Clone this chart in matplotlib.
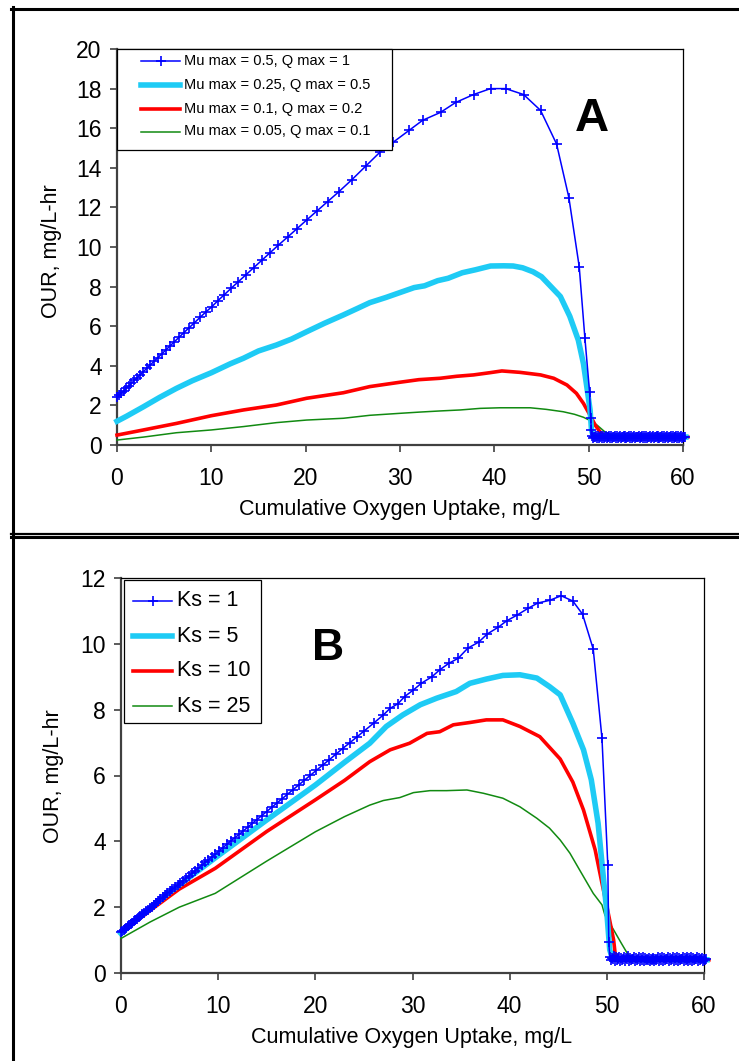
import matplotlib
matplotlib.use("Agg")
import matplotlib.pyplot as plt
from matplotlib.lines import Line2D
from matplotlib.patches import Rectangle

plt.rcParams['font.family'] = ['Liberation Sans', 'DejaVu Sans']

# ---------------- data ----------------
x_label = "Cumulative Oxygen Uptake, mg/L"
y_label = "OUR, mg/L-hr"
x_ticks = [0, 10, 20, 30, 40, 50, 60]
yticks_a = [0, 2, 4, 6, 8, 10, 12, 14, 16, 18, 20]
yticks_b = [0, 2, 4, 6, 8, 10, 12]

labels_a = ["Mu max = 0.5, Q max = 1", "Mu max = 0.25, Q max = 0.5",
            "Mu max = 0.1, Q max = 0.2", "Mu max = 0.05, Q max = 0.1"]
labels_b = ["Ks = 1", "Ks = 5", "Ks = 10", "Ks = 25"]

tail_x = [50.3, 50.4, 50.5, 50.6, 50.7, 50.8, 50.9, 51.0, 51.1, 51.2,
          51.3, 51.4, 51.5, 51.6, 51.7, 51.8, 51.9, 52.0, 52.1, 52.2,
          52.3, 52.4, 52.5, 52.6, 52.7, 52.8, 52.9, 53.0, 53.1, 53.2,
          53.3, 53.4, 53.5, 53.6, 53.7, 53.8, 53.9, 54.0, 54.1, 54.2,
          54.3, 54.4, 54.5, 54.6, 54.7, 54.8, 54.9, 55.0, 55.1, 55.2,
          55.3, 55.4, 55.5, 55.6, 55.7, 55.8, 55.9, 56.0, 56.1, 56.2,
          56.3, 56.4, 56.5, 56.6, 56.7, 56.8, 56.9, 57.0, 57.1, 57.2,
          57.3, 57.4, 57.5, 57.6, 57.7, 57.8, 57.9, 58.0, 58.1, 58.2,
          58.3, 58.4, 58.5, 58.6, 58.7, 58.8, 58.9, 59.0, 59.1, 59.2,
          59.3, 59.4, 59.5, 59.6, 59.7, 59.8, 59.9, 60.0, 60.1, 60.2]

# Panel A, Mu max = 0.5 (markers)
a1_x = [0, 0.23, 0.47, 0.72, 0.98, 1.25, 1.53, 1.83, 2.14, 2.46,
        2.8, 3.15, 3.52, 3.9, 4.3, 4.72, 5.16, 5.61, 6.09, 6.58,
        7.1, 7.64, 8.2, 8.79, 9.4, 10.04, 10.7, 11.39, 12.11, 12.87,
        13.65, 14.47, 15.32, 16.2, 17.12, 18.08, 19.08, 20.12, 21.2, 22.32,
        23.49, 24.9, 26.4, 27.9, 29.3, 31.0, 32.4, 34.3, 35.9, 37.8,
        39.6, 41.2, 43.1, 44.9, 46.6, 47.9, 49.0, 49.6, 50.1, 50.2]
a1_y = [2.4, 2.51, 2.62, 2.74, 2.86, 2.99, 3.12, 3.26, 3.4, 3.55,
        3.71, 3.87, 4.04, 4.22, 4.4, 4.59, 4.79, 5.0, 5.22, 5.44,
        5.68, 5.92, 6.17, 6.44, 6.71, 6.98, 7.29, 7.6, 7.92, 8.25,
        8.59, 8.95, 9.32, 9.7, 10.1, 10.5, 10.93, 11.37, 11.82, 12.29,
        12.78, 13.4, 14.1, 14.8, 15.3, 15.9, 16.4, 16.8, 17.3, 17.7,
        18.0, 18.0, 17.7, 16.9, 15.2, 12.5, 9.0, 5.4, 2.66, 1.35]
a1_tail_y = [0.76, 0.45, 0.33, 0.42, 0.38, 0.47, 0.33, 0.44, 0.36, 0.41,
             0.46, 0.34, 0.43, 0.37, 0.40, 0.45, 0.35, 0.42, 0.38, 0.47,
             0.33, 0.44, 0.36, 0.41, 0.39, 0.46, 0.34, 0.43, 0.37, 0.40,
             0.45, 0.35, 0.42, 0.38, 0.47, 0.33, 0.44, 0.36, 0.41, 0.39,
             0.46, 0.34, 0.43, 0.37, 0.40, 0.45, 0.35, 0.42, 0.38, 0.40,
             0.44, 0.36, 0.41, 0.39, 0.47, 0.33, 0.43, 0.37, 0.45, 0.35,
             0.42, 0.38, 0.46, 0.34, 0.40, 0.44, 0.36, 0.41, 0.39, 0.47,
             0.33, 0.45, 0.35, 0.42, 0.38, 0.46, 0.34, 0.43, 0.37, 0.40,
             0.44, 0.36, 0.41, 0.39, 0.47, 0.33, 0.45, 0.35, 0.42, 0.38,
             0.46, 0.34, 0.43, 0.37, 0.40, 0.44, 0.36, 0.41, 0.39, 0.40]

a2_x = [0, 1, 2.8, 4.5, 6.3, 8, 10, 12, 13.4, 15,
        16.9, 18.5, 20.1, 22, 24, 25.5, 26.8, 28.5, 30, 31.5,
        32.6, 34, 35.1, 36.6, 38, 39.6, 41, 42, 43, 44.1,
        45, 45.6, 46.4, 47.0, 48.0, 48.9, 49.45, 49.8, 50.15, 50.3,
        50.5, 52, 54, 56, 58, 60.3]
a2_y = [1.2, 1.45, 1.93, 2.4, 2.86, 3.25, 3.65, 4.1, 4.38, 4.75,
        5.05, 5.35, 5.72, 6.15, 6.57, 6.9, 7.19, 7.45, 7.7, 7.95,
        8.04, 8.3, 8.42, 8.7, 8.85, 9.04, 9.05, 9.04, 8.95, 8.75,
        8.5, 8.2, 7.8, 7.5, 6.5, 5.3, 4.1, 2.95, 1.77, 0.76,
        0.42, 0.42, 0.4, 0.42, 0.4, 0.4]

a3_x = [0, 2.8, 6.3, 10, 13.4, 16.9, 20.1, 24, 26.8, 30,
        32, 34.25, 36, 37.8, 39.5, 40.8, 42.7, 44.9, 46.3, 47.7,
        48.7, 49.45, 50.15, 50.7, 51.2, 51.6, 53, 55, 57, 59, 60.5]
a3_y = [0.5, 0.76, 1.09, 1.48, 1.77, 2.02, 2.36, 2.64, 2.95, 3.17,
        3.3, 3.37, 3.47, 3.54, 3.65, 3.74, 3.67, 3.54, 3.37, 3.03,
        2.61, 2.1, 1.5, 1.0, 0.67, 0.45, 0.4, 0.4, 0.4, 0.4, 0.4]

a4_x = [0, 2.8, 6.3, 10, 13.4, 16.9, 20.1, 24, 26.8, 30,
        32, 34.25, 36.4, 38.5, 40.6, 43.8, 45.5, 47.3, 48.5, 49.45,
        50.3, 50.9, 51.7, 52.5, 54, 56, 58, 60.2]
a4_y = [0.25, 0.4, 0.62, 0.76, 0.93, 1.13, 1.26, 1.35, 1.5, 1.6,
        1.66, 1.72, 1.77, 1.85, 1.88, 1.88, 1.8, 1.68, 1.55, 1.4,
        1.2, 1.0, 0.67, 0.45, 0.42, 0.4, 0.4, 0.4]

# Panel B, Ks = 1 (markers)
b1_x = [0, 0.13, 0.27, 0.4, 0.55, 0.69, 0.84, 0.99, 1.15, 1.31,
        1.48, 1.65, 1.82, 2.0, 2.18, 2.37, 2.56, 2.76, 2.96, 3.17,
        3.38, 3.6, 3.82, 4.05, 4.29, 4.53, 4.78, 5.03, 5.29, 5.56,
        5.83, 6.11, 6.4, 6.7, 7.0, 7.31, 7.63, 7.96, 8.29, 8.64,
        8.99, 9.35, 9.72, 10.1, 10.49, 10.89, 11.3, 11.72, 12.15, 12.6,
        13.05, 13.52, 13.99, 14.48, 14.98, 15.5, 16.03, 16.57, 17.12, 17.69,
        18.28, 18.88, 19.49, 20.12, 20.77, 21.44, 22.12, 22.81, 23.53, 24.27,
        25.02, 26.0, 27.0, 27.7, 28.5, 29.2, 30.1, 30.9, 32.0, 32.8,
        33.75, 34.7, 35.7, 36.8, 37.7, 38.8, 39.7, 40.8, 41.9, 42.9,
        44.1, 45.3, 46.5, 47.5, 48.6, 49.5, 50.1, 50.2]
b1_y = [1.25, 1.28, 1.32, 1.35, 1.38, 1.42, 1.45, 1.49, 1.53, 1.57,
        1.61, 1.65, 1.69, 1.74, 1.78, 1.83, 1.87, 1.92, 1.97, 2.02,
        2.07, 2.13, 2.18, 2.24, 2.3, 2.36, 2.42, 2.48, 2.54, 2.61,
        2.67, 2.74, 2.81, 2.88, 2.96, 3.03, 3.11, 3.19, 3.27, 3.36,
        3.44, 3.53, 3.62, 3.71, 3.81, 3.91, 4.01, 4.11, 4.21, 4.32,
        4.43, 4.55, 4.66, 4.78, 4.9, 5.03, 5.16, 5.29, 5.43, 5.57,
        5.71, 5.86, 6.01, 6.16, 6.32, 6.48, 6.65, 6.82, 6.99, 7.17,
        7.35, 7.59, 7.84, 8.04, 8.18, 8.40, 8.6, 8.8, 9.0, 9.21,
        9.41, 9.56, 9.87, 10.05, 10.3, 10.5, 10.7, 10.88, 11.08, 11.24,
        11.32, 11.46, 11.3, 10.9, 9.84, 7.13, 3.28, 0.93]
b1_tail_y = [0.5, 0.38, 0.46, 0.42, 0.52, 0.36, 0.48, 0.4, 0.45, 0.43,
             0.5, 0.37, 0.47, 0.41, 0.44, 0.49, 0.36, 0.46, 0.42, 0.51,
             0.36, 0.47, 0.39, 0.44, 0.42, 0.49, 0.35, 0.46, 0.4, 0.43,
             0.48, 0.36, 0.45, 0.41, 0.49, 0.35, 0.46, 0.38, 0.43, 0.41,
             0.47, 0.35, 0.44, 0.39, 0.42, 0.46, 0.36, 0.43, 0.39, 0.42,
             0.49, 0.37, 0.45, 0.41, 0.50, 0.35, 0.47, 0.40, 0.44, 0.42,
             0.48, 0.36, 0.46, 0.40, 0.43, 0.49, 0.35, 0.45, 0.41, 0.50,
             0.36, 0.47, 0.39, 0.44, 0.42, 0.48, 0.35, 0.46, 0.40, 0.43,
             0.49, 0.36, 0.45, 0.41, 0.50, 0.35, 0.46, 0.39, 0.44, 0.42,
             0.48, 0.36, 0.45, 0.40, 0.43, 0.47, 0.35, 0.44, 0.39, 0.42]

b2_x = [0, 2, 5, 9.7, 15, 20, 23, 25.6, 27.3, 29.0,
        30.8, 32.5, 34.5, 35.9, 37.6, 39.3, 41.05, 42.8, 44.1, 45.2,
        46.5, 47.6, 48.4, 49.1, 49.6, 49.98, 50.3, 50.6, 52, 54,
        56, 58, 60.3]
b2_y = [1.2, 1.72, 2.45, 3.5, 4.65, 5.71, 6.4, 6.98, 7.49, 7.84,
        8.15, 8.35, 8.55, 8.8, 8.93, 9.04, 9.06, 8.96, 8.7, 8.45,
        7.59, 6.78, 5.87, 4.55, 3.03, 1.91, 0.7, 0.42, 0.42, 0.4,
        0.42, 0.4, 0.4]

b3_x = [0, 3, 6, 9.7, 15, 20, 23, 25.6, 27.7, 29.7,
        31.5, 32.8, 34.2, 35.9, 37.6, 39.3, 41.05, 43.1, 45.2, 46.5,
        47.6, 48.8, 49.5, 50.15, 50.7, 50.85, 51.2, 53, 55, 57,
        59, 60.5]
b3_y = [1.2, 1.9, 2.55, 3.18, 4.3, 5.26, 5.85, 6.42, 6.78, 6.98,
        7.28, 7.33, 7.54, 7.61, 7.69, 7.69, 7.49, 7.18, 6.5, 5.8,
        4.95, 3.74, 2.73, 1.81, 1.0, 0.6, 0.42, 0.4, 0.42, 0.4,
        0.4, 0.4]

b4_x = [0, 3, 6, 9.7, 15, 20, 23, 25.6, 27.0, 28.7,
        30.1, 31.8, 33.5, 35.6, 37.3, 39.3, 41.05, 42.8, 44.1, 45.2,
        46.2, 47.2, 48.6, 49.5, 49.8, 50.7, 51.5, 52.0, 52.5, 54,
        56, 58, 60.2]
b4_y = [1.05, 1.55, 2.0, 2.42, 3.4, 4.29, 4.75, 5.1, 5.24, 5.33,
        5.48, 5.54, 5.54, 5.56, 5.46, 5.31, 5.05, 4.7, 4.4, 4.04,
        3.64, 3.13, 2.42, 2.07, 1.76, 1.31, 0.9, 0.65, 0.45, 0.42,
        0.4, 0.4, 0.4]

# ---------------- style ----------------
W, H = 739, 1061
BLUE, CYAN, RED, GREEN = '#0000FF', '#1ECBF5', '#FF0000', '#118A11'
styles = [dict(color=BLUE, lw=1.1, marker='+', ms=7, mew=1.2),
          dict(color=CYAN, lw=4.0),
          dict(color=RED, lw=2.6),
          dict(color=GREEN, lw=1.1)]
zorders = [6, 5, 4, 3]

fig = plt.figure(figsize=(W / 100, H / 100), dpi=100)


def fx(px):
    return px / W


def fy(py):
    return 1 - py / H


def make_axes(left, top, right, bottom):
    return fig.add_axes([fx(left), fy(bottom), fx(right - left), (bottom - top) / H])


def style_axes(ax, ymax, yticks):
    ax.set_xlim(0, 60)
    ax.set_ylim(0, ymax)
    ax.set_xticks(x_ticks)
    ax.set_yticks(yticks)
    ax.tick_params(axis='both', direction='out', length=5, width=1.2,
                   color='#404040', labelsize=16.5)
    ax.tick_params(axis='y', pad=6)
    ax.tick_params(axis='x', pad=11)
    for s in ['left', 'bottom']:
        ax.spines[s].set_color('#404040')
        ax.spines[s].set_linewidth(1.6)
    for s in ['top', 'right']:
        ax.spines[s].set_color('black')
        ax.spines[s].set_linewidth(0.9)


def draw_series(ax, xs, ys):
    for i, (xx, yy) in enumerate(zip(xs, ys)):
        ax.plot(xx, yy, clip_on=False, zorder=zorders[i],
                solid_joinstyle='round', **styles[i])


def manual_legend(box, rows, hx, tx, labels, fs):
    l, t, r, b = box
    fig.add_artist(Rectangle((fx(l), fy(b)), fx(r - l), (b - t) / H,
                             transform=fig.transFigure, facecolor='white',
                             edgecolor='black', lw=0.9, zorder=10))
    for i, (ry, lab) in enumerate(zip(rows, labels)):
        st = dict(styles[i])
        mk = st.pop('marker', None)
        ms = st.pop('ms', None)
        mew = st.pop('mew', None)
        fig.add_artist(Line2D([fx(hx[0]), fx(hx[1])], [fy(ry), fy(ry)],
                              transform=fig.transFigure, zorder=11, **st))
        if mk:
            fig.add_artist(Line2D([fx((hx[0] + hx[1]) / 2)], [fy(ry)],
                                  transform=fig.transFigure, marker=mk, ms=ms,
                                  mew=mew, color=st['color'], lw=0, zorder=12))
        fig.text(fx(tx), fy(ry), lab, fontsize=fs, va='center', ha='left',
                 zorder=12)


# ---------------- panel A ----------------
axA = make_axes(117, 49, 683, 445)
style_axes(axA, 20, yticks_a)
draw_series(axA, [a1_x + tail_x, a2_x, a3_x, a4_x],
            [a1_y + a1_tail_y, a2_y, a3_y, a4_y])
fig.text(fx(400), fy(510), x_label, fontsize=15.5, ha='center', va='center')
fig.text(fx(51), fy(251), y_label, fontsize=15.5, ha='center', va='center',
         rotation=90)
fig.text(fx(592), fy(119), 'A', fontsize=34, fontweight='bold',
         ha='center', va='center')
manual_legend((117, 49, 392, 150), [61, 84.5, 108.5, 131.5], (141, 180), 184,
              labels_a, 10.5)

# ---------------- panel B ----------------
axB = make_axes(121, 578, 704, 973)
style_axes(axB, 12, yticks_b)
draw_series(axB, [b1_x + tail_x, b2_x, b3_x, b4_x],
            [b1_y + b1_tail_y, b2_y, b3_y, b4_y])
fig.text(fx(412), fy(1038), x_label, fontsize=15.5, ha='center', va='center')
fig.text(fx(54), fy(776), y_label, fontsize=15.5, ha='center', va='center',
         rotation=90)
fig.text(fx(328), fy(648), 'B', fontsize=32, fontweight='bold',
         ha='center', va='center')
manual_legend((124, 580, 261, 723), [601, 636, 671, 706], (133, 172), 177,
              labels_b, 15.5)

# ---------------- panel frames ----------------
frame = dict(transform=fig.transFigure, color='black', zorder=20)
fig.add_artist(Line2D([fx(11), 1], [fy(8.5), fy(8.5)], lw=2.2, **frame))
fig.add_artist(Line2D([fx(12.5), fx(12.5)], [fy(7), 0], lw=2.2, **frame))
fig.add_artist(Line2D([fx(11), 1], [fy(534), fy(534)], lw=1.6, **frame))
fig.add_artist(Line2D([fx(11), 1], [fy(535.5), fy(535.5)], lw=0.8,
                      transform=fig.transFigure, color='#808080', zorder=19))
fig.add_artist(Line2D([fx(11), 1], [fy(537.5), fy(537.5)], lw=2.2, **frame))

fig.savefig('out.png', dpi=100)
